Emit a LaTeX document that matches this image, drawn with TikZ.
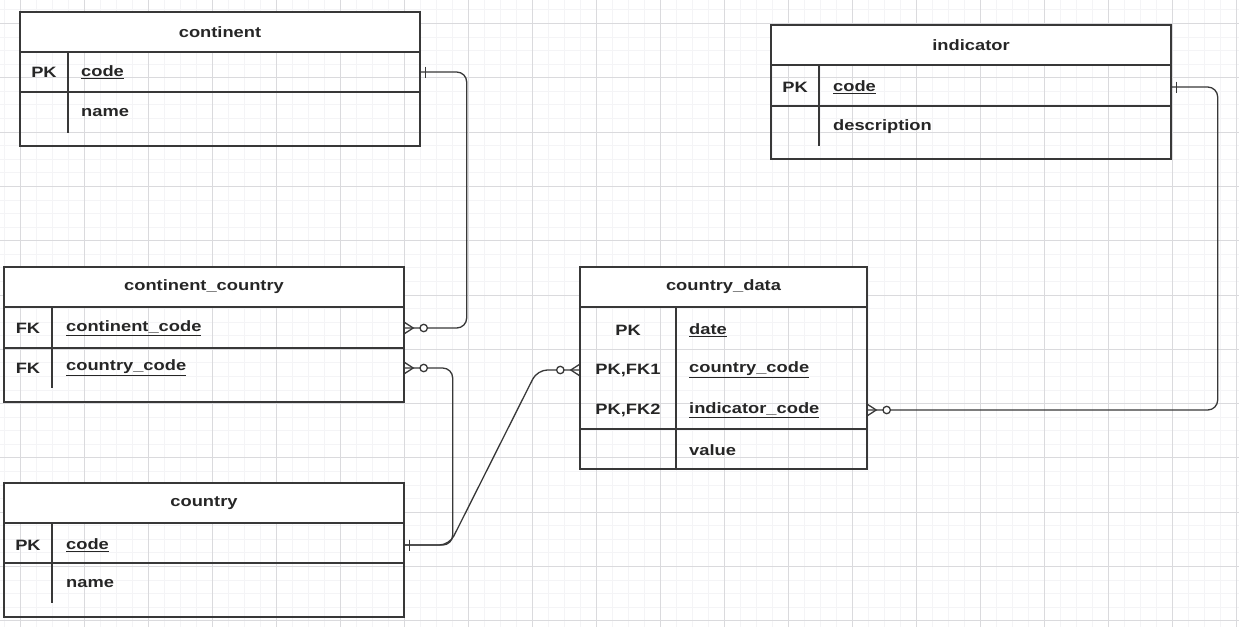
\documentclass[tikz,border=0pt]{standalone}
\usepackage{fontspec}
\setmainfont{Liberation Sans}[FakeStretch=1.22]
\usetikzlibrary{decorations.markings}
\definecolor{gridminor}{HTML}{F4F4F6}
\definecolor{gridmajor}{HTML}{DADADD}
\definecolor{ink}{HTML}{383838}
\definecolor{txt}{HTML}{262626}
\newcommand\erfont{\fontsize{15}{17}\selectfont\bfseries}
\tikzset{
  entity/.style={draw=ink, line width=1.4pt, rectangle, inner sep=0pt},
  title/.style={draw=ink, fill=white, line width=1.4pt, inner sep=0pt, minimum height=40pt, font=\erfont, text=txt},
  key/.style={font=\erfont, text=txt, inner sep=0pt},
  field/.style={anchor=west, font=\erfont, text=txt, inner sep=0pt},
  rel/.style={draw=ink, line width=1.3pt, rounded corners=10pt},
  many/.style={postaction={decorate, decoration={markings,
      mark=at position 0.5pt with {\draw[-, sharp corners] (-0.5pt,5.5pt) -- (8pt,0pt) -- (-0.5pt,-5.5pt);
        \filldraw[-, fill=white] (18.5pt,0pt) circle (3.7pt);}}}},
  one/.style={postaction={decorate, decoration={markings,
      mark=at position -5pt with {\draw[-] (0pt,-5.5pt) -- (0pt,5.5pt);}}}}
}

\begin{document}
\begin{tikzpicture}[x=1pt, y=-1pt]
	\useasboundingbox (0,0) rectangle (1239,627);
	\fill[white] (0,0) rectangle (1239,627);
	% grid
	\foreach \x in {4,20,...,1239} \draw[gridminor, line width=0.7pt] (\x,0) -- (\x,627);
	\foreach \y in {9.8,23.375,...,627} \draw[gridminor, line width=0.7pt] (0,\y) -- (1239,\y);
	\foreach \x in {20,84,...,1239} \draw[gridmajor, line width=0.8pt] (\x,0) -- (\x,627);
	\foreach \y in {23.4,77.7,...,627} \draw[gridmajor, line width=0.8pt] (0,\y) -- (1239,\y);

	% continent
	\node[entity, minimum width=400pt, minimum height=134pt] (continent) at (220,79){};
	\node[title, minimum width=400pt, anchor=north] (continent-title) at (continent.north){continent};
	\draw[ink, line width=1.4pt] (20,92) -- (420,92);
	\draw[ink, line width=1.4pt] (68,52) -- (68,133);
	\node[key] (continent-pk) at (44,72){PK};
	\node[field] (continent-code) at (81,72){\underline{code}};
	\node[field] (continent-name) at (81,113){name};

	% indicator
	\node[entity, minimum width=400pt, minimum height=134pt] (indicator) at (971,92){};
	\node[title, minimum width=400pt, anchor=north] (indicator-title) at (indicator.north){indicator};
	\draw[ink, line width=1.4pt] (771,106) -- (1171,106);
	\draw[ink, line width=1.4pt] (819,65) -- (819,146);
	\node[key] (indicator-pk) at (795,87){PK};
	\node[field] (indicator-code) at (833,87){\underline{code}};
	\node[field] (indicator-description) at (833,127){description};

	% continent_country
	\node[entity, minimum width=400pt, minimum height=135pt] (continentcountry) at (204,334.5){};
	\node[title, minimum width=400pt, anchor=north] (continentcountry-title) at (continentcountry.north){continent\_country};
	\draw[ink, line width=1.4pt] (4,348) -- (404,348);
	\draw[ink, line width=1.4pt] (52,308) -- (52,388);
	\node[key] (cc-fk1) at (28,328){FK};
	\node[key] (cc-fk2) at (28,368){FK};
	\node[field] (cc-continent) at (66,328){\underline{continent\_code}};
	\node[field] (cc-country) at (66,368){\underline{country\_code}};

	% country
	\node[entity, minimum width=400pt, minimum height=134pt] (country) at (204,550){};
	\node[title, minimum width=400pt, anchor=north] (country-title) at (country.north){country};
	\draw[ink, line width=1.4pt] (4,563) -- (404,563);
	\draw[ink, line width=1.4pt] (52,523) -- (52,603);
	\node[key] (country-pk) at (28,545){PK};
	\node[field] (country-code) at (66,545){\underline{code}};
	\node[field] (country-name) at (66,584){name};

	% country_data
	\node[entity, minimum width=287pt, minimum height=202pt] (countrydata) at (723.5,368){};
	\node[title, minimum width=287pt, anchor=north] (countrydata-title) at (countrydata.north){country\_data};
	\draw[ink, line width=1.4pt] (580,429) -- (867,429);
	\draw[ink, line width=1.4pt] (676,308) -- (676,469);
	\node[key] (cd-pk) at (628,330){PK};
	\node[key] (cd-pkfk1) at (628,370){PK,FK1};
	\node[key] (cd-pkfk2) at (628,410){PK,FK2};
	\node[field] (cd-date) at (689,330){\underline{date}};
	\node[field] (cd-country) at (689,370){\underline{country\_code}};
	\node[field] (cd-indicator) at (689,410){\underline{indicator\_code}};
	\node[field] (cd-value) at (689,450){value};

	% relations
	\draw[rel, many, one] (cc-continent -| continentcountry.east) -- ++(62,0) |- (continent-code -| continent.east);
	\draw[rel, many, one] (cc-country -| continentcountry.east) -- ++(48,0) |- (country-code -| country.east);
	\draw[rel, many, one] (cd-country -| countrydata.west) -- ++(-42,0) -- ++(-88,175) -- (country-code -| country.east);
	\draw[rel, many, one] (cd-indicator -| countrydata.east) -- ++(350,0) |- (indicator-code -| indicator.east);
\end{tikzpicture}
\end{document}
